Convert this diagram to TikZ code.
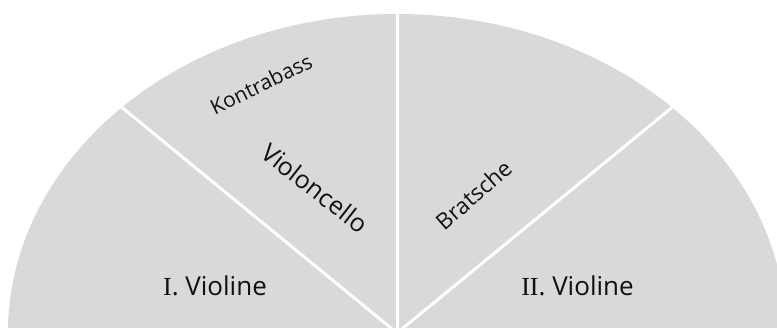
\documentclass[tikz,border=0pt]{standalone}
\usepackage{fontspec}
\setmainfont{Open Sans}
\newfontfamily\numfont{Liberation Serif}
\definecolor{piegray}{HTML}{D9D9D9}
\definecolor{txt}{HTML}{111111}
\tikzset{
  slice/.style={fill=piegray},
  divider/.style={draw=white, line width=3pt},
  biglabel/.style={text=txt, font=\fontsize{26}{31}\selectfont, inner sep=0pt, anchor=base},
  rotlabel/.style={text=txt, inner sep=0pt, anchor=center},
}
\begin{document}
\begin{tikzpicture}[x=1pt,y=1pt]
\useasboundingbox (0,0) rectangle (777,-327);
\clip (0,0) rectangle (777,-327);
\coordinate (O) at (397,-333);
\coordinate (P45) at (672.1,-107.4);
\coordinate (P90) at (397,-14);
\coordinate (P135) at (121.9,-107.4);
\fill[slice] (O) ellipse [x radius=389pt, y radius=319pt];
\draw[divider] (O) -- (P45);
\draw[divider] (O) -- (P90);
\draw[divider] (O) -- (P135);
\node[biglabel] (v1) at (215,-295) {{\numfont I}. Violine};
\node[biglabel] (v2) at (577.5,-295) {{\numfont II}. Violine};
\node[rotlabel, rotate=26, font=\fontsize{21}{25}\selectfont] (kb) at (261,-84) {Kontrabass};
\node[rotlabel, rotate=-38, font=\fontsize{25}{30}\selectfont] (vc) at (315,-188) {Violoncello};
\node[rotlabel, rotate=41, font=\fontsize{22.5}{27}\selectfont] (br) at (473.5,-195) {Bratsche};
\end{tikzpicture}
\end{document}
